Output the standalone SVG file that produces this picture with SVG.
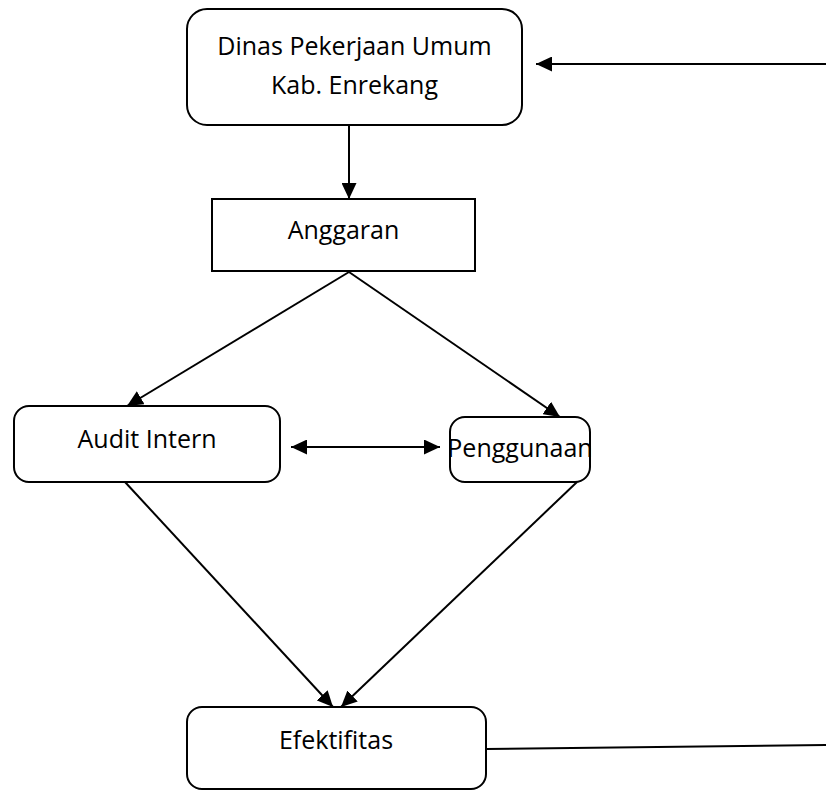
<svg xmlns="http://www.w3.org/2000/svg" width="830" height="791" viewBox="0 0 830 791">
<defs>
<marker id="ah" markerUnits="userSpaceOnUse" markerWidth="16" markerHeight="15" viewBox="0 0 16 15" refX="16" refY="7.5" orient="auto-start-reverse">
<path d="M0,0 L16,7.5 L0,15 z" fill="#000"/>
</marker>
</defs>
<style>
.box{fill:#fff;stroke:#000;stroke-width:2}
.t{font-family:"Open Sans","Liberation Sans",sans-serif;font-size:25px;fill:#000;text-anchor:middle}
.c line{stroke:#000;stroke-width:2;fill:none}
</style>
<rect width="830" height="791" fill="#fff"/>
<g id="n-dinas">
<rect class="box" x="187" y="9" width="335" height="116" rx="20"/>
<text class="t" x="354.5" y="55">Dinas Pekerjaan Umum</text>
<text class="t" x="354.5" y="94">Kab. Enrekang</text>
</g>
<g id="n-anggaran">
<rect class="box" x="212" y="199" width="263" height="72"/>
<text class="t" x="343.5" y="239">Anggaran</text>
</g>
<g id="n-audit">
<rect class="box" x="14" y="406" width="266" height="76" rx="15"/>
<text class="t" x="147" y="448">Audit Intern</text>
</g>
<g id="n-penggunaan">
<rect class="box" x="450" y="417" width="140" height="65" rx="15"/>
<text class="t" x="520" y="457">Penggunaan</text>
</g>
<g id="n-efektifitas">
<rect class="box" x="187" y="707" width="299" height="82" rx="15"/>
<text class="t" x="336" y="749">Efektifitas</text>
</g>
<g id="connectors" class="c">
<line x1="349" y1="125" x2="349" y2="199" marker-end="url(#ah)"/>
<line x1="349" y1="272" x2="127" y2="406" marker-end="url(#ah)"/>
<line x1="349" y1="272" x2="560" y2="417" marker-end="url(#ah)"/>
<line x1="291" y1="447" x2="440" y2="447" marker-start="url(#ah)" marker-end="url(#ah)"/>
<line x1="125" y1="482" x2="333" y2="707" marker-end="url(#ah)"/>
<line x1="577" y1="482" x2="341" y2="707" marker-end="url(#ah)"/>
<line x1="826" y1="64" x2="536" y2="64" marker-end="url(#ah)"/>
<line x1="486" y1="749" x2="826" y2="745"/>
</g>
</svg>
